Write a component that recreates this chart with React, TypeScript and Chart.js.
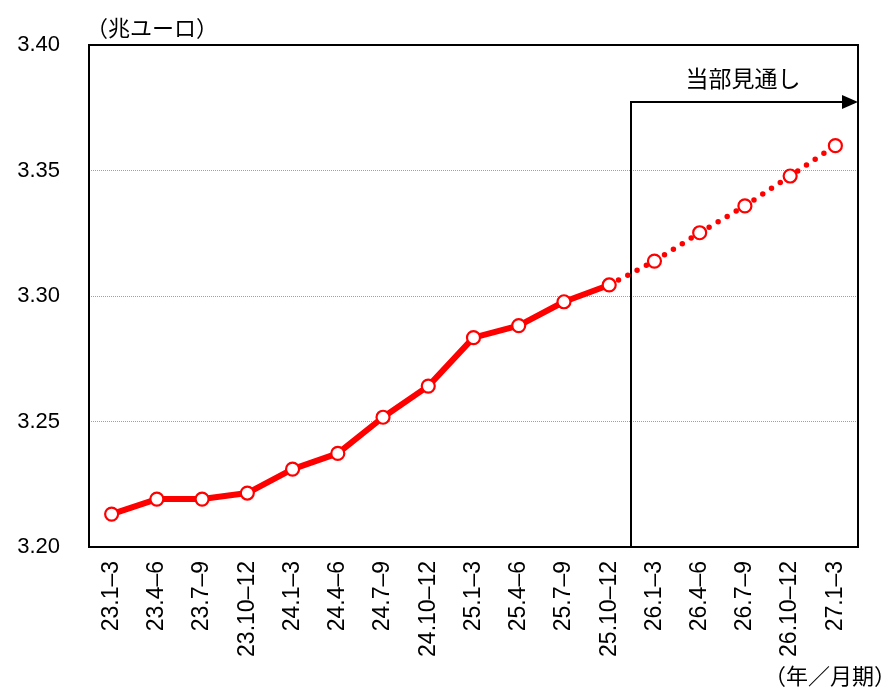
import React, { useEffect, useRef } from "react";
import { Chart, registerables } from "chart.js";

Chart.register(...registerables);

const categories = [
  "23.1–3", "23.4–6", "23.7–9", "23.10–12",
  "24.1–3", "24.4–6", "24.7–9", "24.10–12",
  "25.1–3", "25.4–6", "25.7–9", "25.10–12",
  "26.1–3", "26.4–6", "26.7–9", "26.10–12", "27.1–3",
];
const values = [
  3.2131, 3.2191, 3.2191, 3.2215,
  3.231, 3.2373, 3.2517, 3.2641,
  3.2834, 3.2882, 3.2977, 3.3044,
  3.3139, 3.3252, 3.3359, 3.3478, 3.3599,
];
const lastActualIndex = 11;
const forecastLabel = "当部見通し";
const forecastArrowValue = 3.3773;
const yUnit = "（兆ユーロ）";
const xUnit = "（年／月期）";
const yMin = 3.2;
const yMax = 3.4;
const yStep = 0.05;

const CJK = '"Noto Sans CJK JP", "Noto Sans", sans-serif';
const NUM = '"Liberation Sans", Arial, sans-serif';

const overlayPlugin = {
  id: "overlay",
  beforeDatasetsDraw(chart: any) {
    const { ctx, chartArea, scales } = chart;
    const x = scales.x;
    const y = scales.y;
    ctx.save();
    const xs = Math.round((x.getPixelForValue(lastActualIndex) + x.getPixelForValue(lastActualIndex + 1)) / 2) - 1;
    const ya = Math.round(y.getPixelForValue(forecastArrowValue));
    const tipX = chartArea.right;
    ctx.strokeStyle = "#000";
    ctx.lineWidth = 2;
    ctx.beginPath();
    ctx.moveTo(xs, chartArea.bottom);
    ctx.lineTo(xs, ya);
    ctx.lineTo(tipX - 12, ya);
    ctx.stroke();
    ctx.fillStyle = "#000";
    ctx.beginPath();
    ctx.moveTo(tipX, ya);
    ctx.lineTo(tipX - 16, ya - 7);
    ctx.lineTo(tipX - 16, ya + 7);
    ctx.closePath();
    ctx.fill();
    ctx.font = `23px ${CJK}`;
    ctx.textAlign = "center";
    ctx.textBaseline = "middle";
    ctx.fillText(forecastLabel, 743, ya - 24);
    ctx.restore();
  },
  afterDraw(chart: any) {
    const { ctx, chartArea } = chart;
    ctx.save();
    ctx.strokeStyle = "#000";
    ctx.lineWidth = 2;
    ctx.strokeRect(chartArea.left, chartArea.top, chartArea.right - chartArea.left, chartArea.bottom - chartArea.top);
    ctx.fillStyle = "#000";
    ctx.font = `22px ${CJK}`;
    ctx.textBaseline = "middle";
    ctx.textAlign = "left";
    ctx.fillText(yUnit, chartArea.left - 3, 28);
    ctx.textAlign = "right";
    ctx.fillText(xUnit, 896, 676);
    ctx.restore();
  },
};

export default function App() {
  const ref = useRef<HTMLCanvasElement | null>(null);
  useEffect(() => {
    if (!ref.current) return;
    const chart = new Chart(ref.current, {
      type: "line",
      data: {
        labels: categories,
        datasets: [
          {
            data: values,
            borderColor: "#ff0000",
            borderWidth: 6,
            borderCapStyle: "round",
            borderJoinStyle: "round",
            pointRadius: 6.5,
            pointBorderWidth: 2.2,
            pointBackgroundColor: "#ffffff",
            pointBorderColor: "#ff0000",
            tension: 0,
            segment: {
              borderDash: (ctx: any) => (ctx.p0DataIndex >= lastActualIndex ? [0, 10.5] : undefined),
              borderWidth: (ctx: any) => (ctx.p0DataIndex >= lastActualIndex ? 5.5 : 6),
            },
          } as any,
        ],
      },
      options: {
        animation: false,
        responsive: false,
        devicePixelRatio: 1,
        layout: { padding: { top: 45, right: 37, left: 0, bottom: 0 } },
        plugins: { legend: { display: false }, tooltip: { enabled: false } },
        scales: {
          x: {
            offset: true,
            grid: { display: false, drawTicks: false },
            border: { display: false },
            ticks: {
              autoSkip: false,
              maxRotation: 90,
              minRotation: 90,
              padding: 14,
              color: "#000",
              font: { family: '"Liberation Sans Narrow", "Arial Narrow", "Liberation Sans", sans-serif', size: 23 },
            },
            afterFit: (s: any) => {
              s.height = 140;
            },
          },
          y: {
            min: yMin,
            max: yMax,
            grid: {
              drawTicks: false,
              color: (c: any) => (c.tick && (c.tick.value <= yMin + 1e-9 || c.tick.value >= yMax - 1e-9) ? "rgba(0,0,0,0)" : "#a0a0a0"),
              lineWidth: 1,
            },
            border: { display: false, dash: [1, 1] },
            ticks: {
              stepSize: yStep,
              padding: 29,
              color: "#000",
              font: { family: NUM, size: 22 },
              callback: (v: any) => Number(v).toFixed(2),
            },
            afterFit: (s: any) => {
              s.width = 89;
            },
          },
        },
      },
      plugins: [overlayPlugin],
    });
    return () => chart.destroy();
  }, []);
  return (
    <div style={{ position: "fixed", left: 0, top: 0, width: 895, height: 687, background: "#fff" }}>
      <canvas ref={ref} width={895} height={687} style={{ display: "block", width: 895, height: 687 }} />
    </div>
  );
}
